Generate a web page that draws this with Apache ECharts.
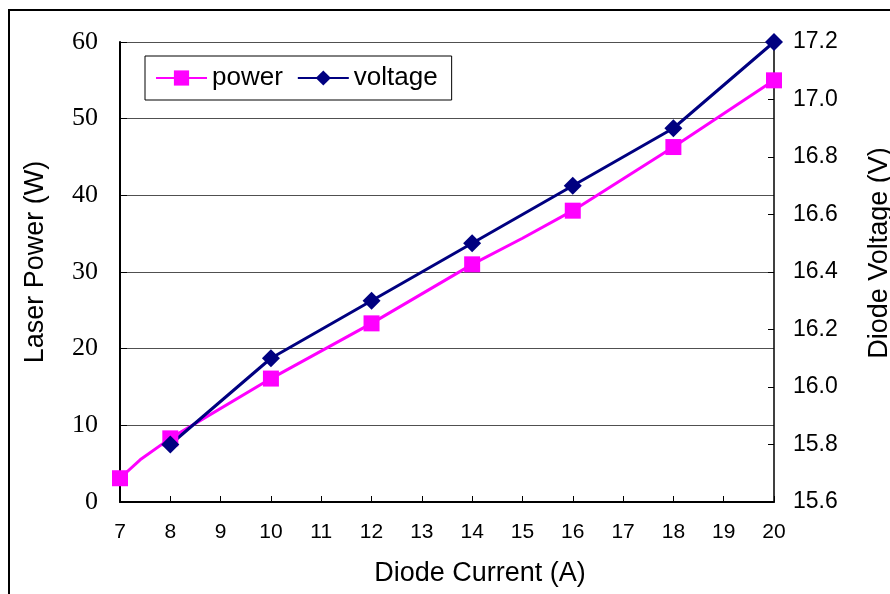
<!DOCTYPE html>
<html>
<head>
<meta charset="utf-8">
<script src="https://cdn.jsdelivr.net/npm/echarts@6/dist/echarts.min.js"></script>
<style>
  html, body { margin: 0; padding: 0; background: #fff; }
  #chart { width: 890px; height: 594px; }
</style>
</head>
<body>
<div id="chart"></div>
<script>
// x = diode current (A); points with null marker are bends in the power line
const powerX = [7, 7.4, 8, 10, 12, 14, 15, 16, 18, 20];
const powerY = [3.1, 5.5, 8.3, 16.1, 23.3, 31.0, 34.4, 38.0, 46.3, 55.0];
const powerMarked = [true, false, true, true, true, true, false, true, true, true];

const voltageX = [8, 10, 12, 14, 16, 18, 20];
const voltageY = [15.8, 16.1, 16.3, 16.5, 16.7, 16.9, 17.2];

const chart = echarts.init(document.getElementById('chart'));

const sans = '"Liberation Sans", Arial, sans-serif';
const serif = '"Liberation Serif", "Times New Roman", serif';

const option = {
  animation: false,
  backgroundColor: '#fff',
  grid: { left: 120, right: 116, top: 42, bottom: 92 },
  legend: {
    left: 145,
    top: 56,
    orient: 'horizontal',
    itemWidth: 51,
    itemHeight: 19,
    itemGap: 14,
    padding: [9, 14, 9, 10],
    borderColor: '#000',
    borderWidth: 1,
    textStyle: { fontFamily: sans, fontSize: 26, color: '#000' },
    data: ['power', 'voltage']
  },
  xAxis: {
    type: 'value',
    min: 7,
    max: 20,
    interval: 1,
    axisLine: { lineStyle: { color: '#000', width: 2 } },
    axisTick: { inside: true, length: 6, lineStyle: { color: '#000' } },
    axisLabel: { fontFamily: sans, fontSize: 21, color: '#000', margin: 20 },
    splitLine: { show: false }
  },
  yAxis: [
    {
      type: 'value',
      min: 0,
      max: 60,
      interval: 10,
      axisLine: { show: true, lineStyle: { color: '#000', width: 2 } },
      axisTick: { show: true, inside: true, length: 7, lineStyle: { color: '#000' } },
      axisLabel: { fontFamily: serif, fontSize: 26, color: '#000', margin: 22 },
      splitLine: { show: true, lineStyle: { color: '#505050', width: 1 } }
    },
    {
      type: 'value',
      min: 15.6,
      max: 17.2,
      interval: 0.2,
      position: 'right',
      axisLine: { show: true, lineStyle: { color: '#000', width: 1.5 } },
      axisTick: { show: true, inside: true, length: 6, lineStyle: { color: '#000' } },
      axisLabel: {
        fontFamily: sans, fontSize: 23, color: '#000', margin: 19,
        formatter: v => v.toFixed(1)
      },
      splitLine: { show: false }
    }
  ],
  graphic: [
    {
      type: 'rect',
      silent: true,
      z: 100,
      shape: { x: 9, y: 10, width: 900, height: 620 },
      style: { fill: 'none', stroke: '#000', lineWidth: 2 }
    },
    {
      type: 'text',
      x: 36, y: 262,
      rotation: Math.PI / 2,
      style: {
        text: 'Laser Power (W)', font: '27px ' + sans, fill: '#000',
        align: 'center', verticalAlign: 'middle'
      }
    },
    {
      type: 'text',
      x: 880, y: 253,
      rotation: Math.PI / 2,
      style: {
        text: 'Diode Voltage (V)', font: '27px ' + sans, fill: '#000',
        align: 'center', verticalAlign: 'middle'
      }
    },
    {
      type: 'text',
      x: 480, y: 574,
      style: {
        text: 'Diode Current (A)', font: '27px ' + sans, fill: '#000',
        align: 'center', verticalAlign: 'middle'
      }
    }
  ],
  series: [
    {
      name: 'power',
      type: 'line',
      yAxisIndex: 0,
      symbol: 'rect',
      symbolSize: 16,
      color: '#FF00FF',
      lineStyle: { color: '#FF00FF', width: 3 },
      itemStyle: { color: '#FF00FF' },
      data: powerX.map((x, i) => powerMarked[i]
        ? [x, powerY[i]]
        : { value: [x, powerY[i]], symbol: 'none', symbolSize: 0 })
    },
    {
      name: 'voltage',
      type: 'line',
      yAxisIndex: 1,
      symbol: 'diamond',
      symbolSize: 18,
      color: '#000080',
      lineStyle: { color: '#000080', width: 3 },
      itemStyle: { color: '#000080' },
      data: voltageX.map((x, i) => [x, voltageY[i]])
    }
  ]
};

chart.setOption(option);
</script>
</body>
</html>
